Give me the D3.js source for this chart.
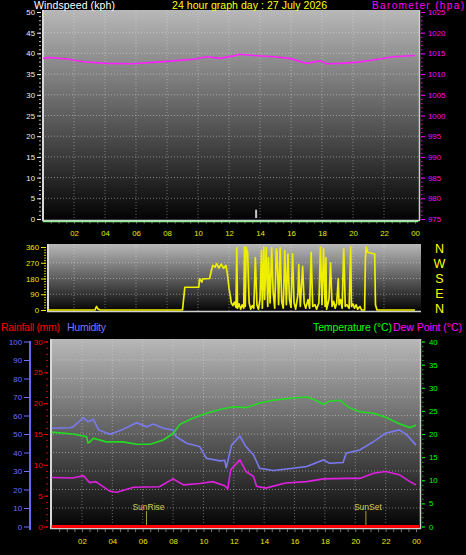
<!DOCTYPE html>
<html><head><meta charset="utf-8">
<script src="https://cdn.jsdelivr.net/npm/d3@7"></script>
<style>
body{margin:0;background:#000;}
svg{display:block;}
text{font-family:"Liberation Sans",Arial,sans-serif;}
</style>
</head><body>
<svg id="c" width="466" height="555"></svg>
<script>
// ---------- DATA ----------
const hourTickValues = [2,4,6,8,10,12,14,16,18,20,22,24];
const hourTickLabels = ["02","04","06","08","10","12","14","16","18","20","22","00"];

const windHours = [0, 24.2];
const windSpeed = [0, 0];
const gustHours = [13.75];
const gustValues = [2];

const baroHours = [0,0.45,1.74,1.9,2.6,4.1,5.8,7.3,8.4,9.7,10.6,11.4,12.3,12.7,13.6,14.9,15.9,17.0,17.9,18.3,19.2,20.3,21.3,22.6,24];
const baroValues = [1013.8,1014.0,1013.6,1013.4,1013.0,1012.6,1012.5,1012.9,1013.2,1013.6,1014.2,1013.8,1014.4,1014.8,1014.5,1014.2,1013.8,1012.6,1013.2,1012.5,1012.6,1012.9,1013.4,1014.2,1014.5];

const dirHours = [0,3.35,3.45,3.55,3.7,9.0,9.15,10.05,10.1,10.25,10.3,10.75,10.85,10.95,11.1,11.2,11.35,11.5,11.65,11.8,11.9,12.0,12.1,12.15,12.25,12.35,12.45,12.5,12.55,12.65,12.75,12.85,12.95,13.0,13.05,13.1,13.2,13.3,13.4,13.5,13.6,13.7,13.8,13.9,14.0,14.1,14.15,14.25,14.3,14.4,14.5,14.55,14.65,14.75,14.85,14.95,15.05,15.1,15.2,15.3,15.4,15.5,15.6,15.7,15.8,15.9,16.0,16.1,16.2,16.3,16.45,16.5,16.6,16.75,16.85,16.95,17.1,17.2,17.3,17.4,17.55,17.65,17.8,17.9,18.0,18.1,18.2,18.25,18.3,18.45,18.55,18.65,18.75,18.85,18.95,19.05,19.1,19.2,19.3,19.4,19.45,19.5,19.6,19.75,19.85,19.9,20.0,20.1,20.2,20.3,20.45,20.55,20.75,20.8,20.85,20.95,21.4,21.45,21.55,24];
const dirValues = [0,0,20,5,0,0,130,130,178,160,178,180,220,255,245,265,240,262,238,255,205,125,70,40,25,45,15,355,10,35,5,30,10,360,20,360,330,40,5,25,10,300,30,5,60,340,10,360,60,355,20,300,40,355,100,10,350,330,30,355,50,10,340,30,320,60,15,320,40,5,90,260,20,250,40,10,60,10,330,20,30,5,40,360,30,350,20,300,5,60,270,20,50,10,40,180,30,60,10,350,200,20,30,10,360,20,35,10,30,5,20,0,0,300,360,330,320,30,0,0];
const dirTickValues = [0,90,180,270,360];
const compassLabels = ["N","E","S","W","N"];

const tempHours = [0,1.4,2.3,2.4,2.5,2.75,3.6,4.7,5.6,6.5,7.35,8.0,8.45,9.3,10.2,11.1,11.95,12.8,13.7,14.6,15.9,16.8,17.4,17.9,18.3,19.0,19.6,20.3,21.2,22.0,22.9,23.6,24];
const tempValues = [20.4,20.0,19.4,18.1,18.2,19.1,18.3,18.3,17.8,17.8,18.7,20.1,22.1,23.4,24.5,25.3,25.9,25.7,26.7,27.3,27.8,28.0,27.3,26.4,27.1,27.3,25.7,24.8,24.5,23.6,22.2,21.4,21.9];

const humHours = [0,1.2,1.4,2.1,2.4,2.75,3.1,3.85,4.7,5.6,6.25,6.7,7.35,8.0,8.2,8.9,9.75,10.2,11.1,11.4,11.5,11.85,12.4,12.8,13.3,13.7,14.6,15.9,16.8,17.9,18.3,19.2,19.4,20.3,21.2,22.0,22.9,23.4,24];
const humValues = [53.1,53.4,53.8,58.8,56.6,57.9,52.2,49.8,52.5,56.1,53.9,55.4,53.1,52.2,48.5,45,43.2,36.9,35.5,35.8,31.5,44,48.9,43.2,38.7,31.5,30.3,31.5,32.4,36,34.2,34.6,39.6,41.4,45.9,50.4,52.2,49.5,44];

const dewHours = [0,1.4,2.1,2.5,2.9,3.85,4.3,5.4,7.1,8.0,8.7,9.75,10.6,11.4,11.6,11.8,12.4,12.8,13.3,13.5,14.1,15.4,16.8,17.9,19.4,20.3,21.2,22.0,22.9,23.6,24];
const dewValues = [10.6,10.5,11.0,9.5,9.7,7.6,7.4,8.5,8.6,10.3,9.0,9.3,9.7,8.8,8.1,12.3,14.4,11.9,10.8,8.7,8.3,9.4,9.7,10.3,10.4,10.4,11.5,11.9,11.2,9.7,9.0];

const rainHours = [0, 24.2];
const rainValues = [0, 0];

const sunHours = [6.25, 20.7];
const sunLabels = ["SunRise", "SunSet"];

// ---------- DRAW ----------
const svg = d3.select("#c");
const defs = svg.append("defs");
const AX_FONT = "7.8px";

function makeGrad(id){
  const g = defs.append("linearGradient").attr("id", id)
    .attr("x1",0).attr("y1",0).attr("x2",0).attr("y2",1);
  g.append("stop").attr("offset",0).attr("stop-color","#b8b8b8");
  g.append("stop").attr("offset",0.5).attr("stop-color","#5e5e5e");
  g.append("stop").attr("offset",1).attr("stop-color","#020202");
}
makeGrad("gTop"); makeGrad("gDir"); makeGrad("gBot");

function panel(x0, y0, x1, y1, gid, hLines, vLines, showRight){
  const g = svg.append("g");
  g.append("rect").attr("x",x0).attr("y",y0).attr("width",x1-x0).attr("height",y1-y0)
    .attr("fill","url(#"+gid+")");
  g.selectAll("line.h").data(hLines).join("line")
    .attr("x1",x0).attr("x2",x1).attr("y1",d=>d).attr("y2",d=>d)
    .attr("stroke","rgba(235,235,235,0.45)").attr("stroke-dasharray","1,2");
  g.selectAll("line.v").data(vLines).join("line")
    .attr("y1",y0).attr("y2",y1).attr("x1",d=>d).attr("x2",d=>d)
    .attr("stroke","rgba(235,235,235,0.4)").attr("stroke-dasharray","1,2");
  g.append("line").attr("x1",x0+1).attr("x2",x0+1).attr("y1",y0).attr("y2",y1)
    .attr("stroke","#d8d8d8").attr("stroke-width",2);
  g.append("line").attr("x1",x0).attr("x2",x1).attr("y1",y1-0.5).attr("y2",y1-0.5)
    .attr("stroke","#d0d0d0").attr("stroke-width",1.5);
  if (showRight) g.append("line").attr("x1",x1-0.5).attr("x2",x1-0.5).attr("y1",y0).attr("y2",y1)
    .attr("stroke","#cfcfcf").attr("stroke-width",1.5);
  return g;
}

function styleAxis(g, color){
  g.attr("font-family",'"Liberation Sans",Arial,sans-serif').attr("font-size",AX_FONT);
  g.select(".domain").remove();
  g.selectAll("line").attr("stroke",color);
  g.selectAll("text").attr("fill",color);
}
const range = (a,b,s)=>d3.range(a,b+s/2,s);

// ===== TOP PANEL =====
const xTop = d3.scaleLinear().domain([0,24]).range([43,415]);
const yWind = d3.scaleLinear().domain([0,50]).range([219,12]);
const yBaro = d3.scaleLinear().domain([975,1025]).range([219,12]);

panel(42, 10, 420, 221, "gTop", range(5,45,5).map(yWind), hourTickValues.slice(0,-1).map(xTop), true);

// left axis
svg.append("g").attr("transform","translate(41,0)")
  .call(d3.axisLeft(yWind).tickValues(range(0,50,1)).tickSize(2).tickFormat(""))
  .call(g=>styleAxis(g,"#bbbbbb"));
svg.append("g").attr("transform","translate(41,0)")
  .call(d3.axisLeft(yWind).tickValues(range(0,50,5)).tickSize(4).tickPadding(2))
  .call(g=>styleAxis(g,"#e6eeff"));
// right axis
svg.append("g").attr("transform","translate(421,0)")
  .call(d3.axisRight(yBaro).tickValues(range(975,1025,1)).tickSize(1.5).tickFormat(""))
  .call(g=>styleAxis(g,"#d010d0"));
svg.append("g").attr("transform","translate(421,0)")
  .call(d3.axisRight(yBaro).tickValues(range(975,1025,5)).tickSize(4).tickPadding(3).tickFormat(d3.format("d")))
  .call(g=>styleAxis(g,"#ff00ff"));
// bottom axis
svg.append("g").attr("transform","translate(0,221)")
  .call(d3.axisBottom(xTop).tickValues(range(0.5,24,0.5)).tickSize(2.5).tickFormat(""))
  .call(g=>styleAxis(g,"#777"));
svg.append("g").attr("transform","translate(0,230)")
  .call(d3.axisBottom(xTop).tickValues(hourTickValues).tickSize(0).tickPadding(0)
     .tickFormat((d,i)=>hourTickLabels[i]))
  .call(g=>styleAxis(g,"#e8e800"));

// barometer line
svg.append("path").datum(baroHours.map((h,i)=>[h,baroValues[i]]))
  .attr("fill","none").attr("stroke","#ff22ff").attr("stroke-width",1.6)
  .attr("d", d3.line().x(d=>xTop(d[0])).y(d=>yBaro(d[1])));
// gust bars
svg.selectAll("rect.gust").data(gustHours.map((h,i)=>[h,gustValues[i]])).join("rect")
  .attr("x",d=>xTop(d[0])-1).attr("width",2)
  .attr("y",d=>yWind(d[1])-1).attr("height",d=>yWind(0)-yWind(d[1]))
  .attr("fill","#c8c8c8");
// windspeed line
svg.append("path").datum(windHours.map((h,i)=>[h,windSpeed[i]]))
  .attr("transform","translate(0,2.5)")
  .attr("fill","none").attr("stroke","#90ee90").attr("stroke-width",1.6)
  .attr("d", d3.line().x(d=>xTop(d[0])).y(d=>yWind(d[1])));

// headers
svg.append("text").attr("x",34).attr("y",9).attr("fill","#ffffff").style("font-size","10.5px")
  .attr("textLength",81).text("Windspeed (kph)");
svg.append("text").attr("x",172).attr("y",9).attr("fill","#ffff00").style("font-size","10.5px")
  .attr("textLength",155).text("24 hour graph day : 27 July 2026");
svg.append("text").attr("x",372).attr("y",8.5).attr("fill","#ff00ff").style("font-size","10px")
  .attr("textLength",92).text("Barometer (hpa)");

// ===== WIND DIRECTION PANEL =====
const yDir = d3.scaleLinear().domain([0,360]).range([310,247]);
panel(47, 244, 421, 312, "gDir", [90,180,270].map(yDir), hourTickValues.slice(0,-1).map(xTop), false);

svg.append("g").attr("transform","translate(46,0)")
  .call(d3.axisLeft(yDir).tickValues(range(0,360,15)).tickSize(2).tickFormat(""))
  .call(g=>styleAxis(g,"#c8c800"));
svg.append("g").attr("transform","translate(46,0)")
  .call(d3.axisLeft(yDir).tickValues(dirTickValues).tickSize(5).tickPadding(2))
  .call(g=>styleAxis(g,"#e8e800"));

const clip = defs.append("clipPath").attr("id","clipDir");
clip.append("rect").attr("x",48).attr("y",240).attr("width",373).attr("height",72);
svg.append("path").datum(dirHours.map((h,i)=>[h,dirValues[i]]))
  .attr("clip-path","url(#clipDir)")
  .attr("fill","none").attr("stroke","#eeee00").attr("stroke-width",1.7)
  .attr("stroke-linejoin","round")
  .attr("d", d3.line().x(d=>xTop(d[0])).y(d=>yDir(d[1])));

svg.selectAll("text.compass").data(dirTickValues).join("text")
  .attr("x",439.5).attr("y",(d,i)=>yDir(d) + 4.5 + (2 - i) * -0.9)
  .attr("text-anchor","middle").attr("fill","#ffff00").style("font-size","12.5px")
  .text((d,i)=>compassLabels[i]);

// ===== BOTTOM PANEL =====
const xB = d3.scaleLinear().domain([0,24]).range([51.6,416]);
const yRain = d3.scaleLinear().domain([0,30]).range([526.5,341.5]);
const yHum = d3.scaleLinear().domain([0,100]).range([526.5,341.5]);
const yTemp = d3.scaleLinear().domain([0,40]).range([526.5,341.5]);

panel(50, 339, 421, 529, "gBot", range(10,90,10).map(yHum), hourTickValues.slice(0,-1).map(xB), true);

// humidity axis
svg.append("line").attr("x1",30).attr("x2",30).attr("y1",341).attr("y2",530)
  .attr("stroke","#6a6aee").attr("stroke-width",2);
svg.append("g").attr("transform","translate(29,0)")
  .call(d3.axisLeft(yHum).tickValues(range(0,100,10)).tickSize(5).tickPadding(2))
  .call(g=>styleAxis(g,"#7070ff"));
// rain axis
svg.append("g").attr("transform","translate(48,0)")
  .call(d3.axisLeft(yRain).tickValues(range(0,30,1)).tickSize(2).tickFormat(""))
  .call(g=>styleAxis(g,"#cc0000"));
svg.append("g").attr("transform","translate(48,0)")
  .call(d3.axisLeft(yRain).tickValues(range(0,30,5)).tickSize(4).tickPadding(1.5))
  .call(g=>styleAxis(g,"#ff0000"));
// temp axis
svg.append("g").attr("transform","translate(422,0)")
  .call(d3.axisRight(yTemp).tickValues(range(0,40,1)).tickSize(1.5).tickFormat(""))
  .call(g=>styleAxis(g,"#00b000"));
svg.append("g").attr("transform","translate(422,0)")
  .call(d3.axisRight(yTemp).tickValues(range(0,40,5)).tickSize(3).tickPadding(4))
  .call(g=>styleAxis(g,"#00ff00"));
// x axis
svg.append("g").attr("transform","translate(0,529)")
  .call(d3.axisBottom(xB).tickValues(range(0.5,24,0.5)).tickSize(3).tickFormat(""))
  .call(g=>styleAxis(g,"#777"));
svg.append("g").attr("transform","translate(0,538)")
  .call(d3.axisBottom(xB).tickValues(hourTickValues).tickSize(0).tickPadding(0)
     .tickFormat((d,i)=>hourTickLabels[i]))
  .call(g=>styleAxis(g,"#e8e800"));

// sun markers
const sun = svg.selectAll("g.sun").data(sunHours.map((h,i)=>[h,sunLabels[i]])).join("g");
sun.append("line").attr("x1",d=>xB(d[0])).attr("x2",d=>xB(d[0])).attr("y1",511).attr("y2",528)
  .attr("stroke","#a89a3c").attr("stroke-width",1);
sun.append("text").attr("x",d=>xB(d[0])+2).attr("y",509.5).attr("text-anchor","middle")
  .attr("fill","#d8c85a").style("font-size","8.5px").text(d=>d[1]);

// lines
function series(hours, vals, yS, color, w){
  svg.append("path").datum(hours.map((h,i)=>[h,vals[i]]))
    .attr("fill","none").attr("stroke",color).attr("stroke-width",w)
    .attr("d", d3.line().x(d=>xB(d[0])).y(d=>yS(d[1])));
}
series(humHours, humValues, yHum, "#7a7af0", 1.6);
series(tempHours, tempValues, yTemp, "#22dd22", 1.6);
series(dewHours, dewValues, yTemp, "#e020e0", 1.6);
series(rainHours, rainValues, yRain, "#ff0000", 3);

// headers
svg.append("text").attr("x",1).attr("y",331).attr("fill","#ff0000").style("font-size","10.5px")
  .attr("textLength",59).text("Rainfall (mm)");
svg.append("text").attr("x",67).attr("y",331).attr("fill","#7878ff").style("font-size","10.5px")
  .attr("textLength",39).text("Humidity");
svg.append("text").attr("x",313).attr("y",331).attr("fill","#00ff00").style("font-size","10.5px")
  .attr("textLength",79).text("Temperature (°C)");
svg.append("text").attr("x",393).attr("y",331).attr("fill","#ff00ff").style("font-size","10.5px")
  .attr("textLength",69).text("Dew Point (°C)");
</script>
</body></html>
